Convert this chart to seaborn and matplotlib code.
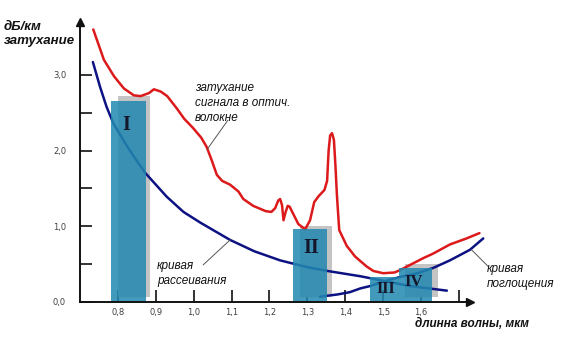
import matplotlib
matplotlib.use("Agg")
import matplotlib.pyplot as plt
import seaborn as sns

# Total attenuation of the signal in optical fibre, dB/km
total_wl = [0.735, 0.763, 0.790, 0.816, 0.842, 0.860, 0.882, 0.895, 0.913, 0.930,
            0.955, 0.975, 0.998, 1.020, 1.034, 1.047, 1.061, 1.075, 1.096, 1.118,
            1.131, 1.157, 1.190, 1.205, 1.215, 1.223, 1.228, 1.233, 1.237, 1.242,
            1.248, 1.253, 1.262, 1.276, 1.294, 1.307, 1.318, 1.330, 1.345, 1.352,
            1.356, 1.360, 1.365, 1.370, 1.374, 1.378, 1.384, 1.404, 1.426, 1.456,
            1.474, 1.500, 1.530, 1.544, 1.571, 1.606, 1.632, 1.676, 1.720, 1.754]
total_db = [3.60, 3.20, 2.98, 2.82, 2.73, 2.72, 2.76, 2.81, 2.78, 2.72,
            2.56, 2.42, 2.30, 2.17, 2.05, 1.88, 1.68, 1.60, 1.55, 1.46,
            1.36, 1.27, 1.20, 1.19, 1.24, 1.34, 1.36, 1.28, 1.08, 1.18,
            1.27, 1.26, 1.17, 1.03, 0.96, 1.08, 1.32, 1.40, 1.48, 1.60,
            2.00, 2.20, 2.23, 2.14, 1.80, 1.40, 0.95, 0.74, 0.60, 0.47,
            0.41, 0.38, 0.39, 0.42, 0.49, 0.58, 0.64, 0.76, 0.84, 0.91]

# Scattering loss
scatter_wl = [0.734, 0.753, 0.770, 0.788, 0.819, 0.845, 0.873, 0.929, 0.973, 1.017,
              1.096, 1.160, 1.228, 1.300, 1.353, 1.440, 1.500, 1.571, 1.620, 1.668]
scatter_db = [3.17, 2.84, 2.58, 2.36, 2.10, 1.90, 1.70, 1.39, 1.19, 1.05,
              0.82, 0.67, 0.55, 0.46, 0.41, 0.34, 0.28, 0.21, 0.18, 0.15]

# Absorption loss
absorb_wl = [1.333, 1.380, 1.412, 1.440, 1.465, 1.500, 1.544, 1.590, 1.632, 1.676, 1.729, 1.764]
absorb_db = [0.07, 0.10, 0.13, 0.18, 0.21, 0.27, 0.33, 0.38, 0.45, 0.55, 0.69, 0.84]

# Transparency windows I-IV
window_names = ["I", "II", "III", "IV"]
window_left = [0.783, 1.263, 1.465, 1.5425]
window_right = [0.873, 1.353, 1.543, 1.630]
window_top = [2.66, 0.96, 0.325, 0.445]
window_label_x = [0.821, 1.309, 1.507, 1.579]
window_label_y = [2.34, 0.71, 0.17, 0.27]
window_label_size = [14.5, 14.5, 11.5, 12]

# Grey shadows behind windows I, II, IV
shadow_left = [0.800, 1.280, 1.5575]
shadow_right = [0.885, 1.366, 1.644]
shadow_top = [2.717, 1.004, 0.498]
shadow_bottom = [0.066, 0.066, 0.066]

x_ticks = [0.8, 0.9, 1.0, 1.1, 1.2, 1.3, 1.4, 1.5, 1.6, 1.7]
x_tick_labels = ["0,8", "0,9", "1,0", "1,1", "1,2", "1,3", "1,4", "1,5", "1,6", ""]
y_ticks = [0.0, 0.5, 1.0, 1.5, 2.0, 2.5, 3.0]
y_tick_labels = ["0,0", "", "1,0", "", "2,0", "", "3,0"]

sns.set_theme(style="white")
plt.rcParams["font.family"] = ["Liberation Sans", "DejaVu Sans"]

W, H = 563, 339
fig = plt.figure(figsize=(W / 100, H / 100), dpi=100)
XPX, YPX = 379.0, 75.7
xlim = (0.70, 1.78)
ylim = (0.0, 3.80)
ax = fig.add_axes([80 / W, 37 / H, (xlim[1] - xlim[0]) * XPX / W, (ylim[1] - ylim[0]) * YPX / H])
ax.set_xlim(*xlim)
ax.set_ylim(*ylim)
ax.patch.set_alpha(0)

RED = "#dc1a1c"
NAVY = "#0d1283"
BAR = "#2288b0"
SHADOW = "#c4c4c4"

# shadows
ax.bar(shadow_left, [t - b for t, b in zip(shadow_top, shadow_bottom)],
       width=[r - l for l, r in zip(shadow_left, shadow_right)],
       bottom=shadow_bottom, align="edge", color=SHADOW, linewidth=0, zorder=1)

# curves
sns.lineplot(x=total_wl, y=total_db, ax=ax, color=RED, linewidth=1.8,
             sort=False, estimator=None, zorder=2)
sns.lineplot(x=scatter_wl, y=scatter_db, ax=ax, color=NAVY, linewidth=1.8,
             sort=False, estimator=None, zorder=2)
sns.lineplot(x=absorb_wl, y=absorb_db, ax=ax, color=NAVY, linewidth=1.8,
             sort=False, estimator=None, zorder=2)
for ln in ax.lines:
    ln.set_clip_on(False)
    ln.set_solid_capstyle("round")
    ln.set_solid_joinstyle("round")

# windows
ax.bar(window_left, window_top, width=[r - l for l, r in zip(window_left, window_right)],
       align="edge", color=BAR, alpha=0.86, linewidth=0, zorder=3)
for name, x, y, s in zip(window_names, window_label_x, window_label_y, window_label_size):
    ax.text(x, y, name, ha="center", va="center", fontsize=s, fontweight="bold",
            family="Liberation Serif", color="#14162a", zorder=4)

# axes with arrows
for side in ("top", "right"):
    ax.spines[side].set_visible(False)
for side in ("left", "bottom"):
    ax.spines[side].set_color("#111111")
    ax.spines[side].set_linewidth(1.4)
    ax.spines[side].set_zorder(5)
ax.spines["left"].set_bounds(0.0, 3.66)
ax.spines["bottom"].set_bounds(0.70, 1.722)
ax.plot([1.7285], [0.0], marker=">", ms=6, color="#111111", clip_on=False, zorder=6)
ax.plot([0.70], [3.705], marker="^", ms=6, color="#111111", clip_on=False, zorder=6)

ax.set_axisbelow(True)
ax.set_xticks(x_ticks)
ax.set_xticklabels(x_tick_labels)
ax.set_yticks(y_ticks)
ax.set_yticklabels(y_tick_labels)
ax.tick_params(axis="both", direction="in", length=8.6, width=1.2, color="#111111",
               labelsize=6, labelcolor="#404040", bottom=True, left=True)
ax.tick_params(axis="x", pad=4)
ax.tick_params(axis="y", pad=10)
for lab in ax.get_xticklabels() + ax.get_yticklabels():
    lab.set_family("DejaVu Sans")

# annotations
note_kw = dict(fontsize=8.5, style="italic", color="#111111", va="top", ha="left",
               linespacing=1.3)
ax.text(1.003, 2.90, "затухание\nсигнала в оптич.\nволокне", **note_kw)
ax.text(0.903, 0.55, "кривая\nрассеивания", **note_kw)
ax.text(1.774, 0.51, "кривая\nпоглощения", **note_kw)
lead_kw = dict(color="#555555", linewidth=0.7, zorder=2, clip_on=False)
ax.plot([1.090, 1.036], [2.40, 2.02], **lead_kw)
ax.plot([1.025, 1.096], [0.49, 0.82], **lead_kw)
ax.plot([1.777, 1.733], [0.47, 0.69], **lead_kw)

title_kw = dict(fontsize=9.5, style="italic", fontweight="bold", color="#111111",
                va="baseline", ha="left")
fig.text(4 / W, 1 - 29.5 / H, "дБ/км", **title_kw)
fig.text(4 / W, 1 - 44 / H, "затухание", **title_kw)
fig.text(415 / W, 1 - 327 / H, "длинна волны, мкм", **{**title_kw, "fontsize": 8.5})

fig.savefig("out.png", dpi=100)
